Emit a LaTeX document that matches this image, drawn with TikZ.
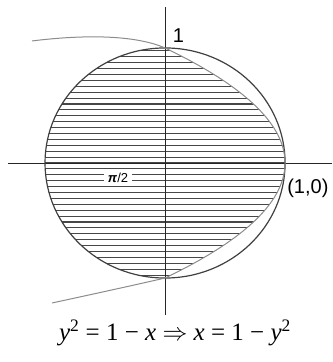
\documentclass[tikz,border=0pt]{standalone}
\usepackage{fontspec}
\newfontfamily\arialfont{Liberation Sans}
\newfontfamily\timesfont{Liberation Serif}
\usetikzlibrary{positioning}

\begin{document}
\begin{tikzpicture}[x=120pt, y=115pt,
    axis/.style={black!85, line width=0.9pt},
    rim/.style={black!75, line width=1.2pt},
    parab/.style={black!45, line width=1pt},
    hatch/.style={black!72, line width=1.05pt},
    lbl/.style={font=\arialfont\fontsize{20}{22}\selectfont, inner sep=0pt}
  ]
  \useasboundingbox (-1.375,-1.730) rectangle (1.392,1.417);

  % hatched region: inside the circle and left of x = 1 - y^2
  \begin{scope}
    \clip (0,0) circle (1);
    \clip (-0.942,-1.217) .. controls (-0.6,-1.14) and (-0.25,-1.06) .. (0,-1)
      -- plot[domain=-1:1, samples=41] ({1-\x*\x},\x)
      .. controls (-0.24,1.11) and (-0.65,1.12) .. (-1.108,1.061)
      -- (-1.5,1.061) -- (-1.5,-1.217) -- cycle;
    \foreach \k in {-20,...,20}
      \draw[hatch] (-1.2,\k*0.0513) -- (1.2,\k*0.0513);
  \end{scope}

  % axes
  \coordinate (xl) at (-1.308,0);
  \coordinate (xr) at (1.392,0);
  \coordinate (yb) at (0,-1.322);
  \coordinate (yt) at (0,1.357);
  \draw[axis] (xl) -- (xr);
  \draw[axis] (yb) -- (yt);

  % circle and parabola
  \draw[rim] (0,0) circle (1);
  \draw[parab] (-0.942,-1.217) .. controls (-0.6,-1.14) and (-0.25,-1.06) .. (0,-1)
    -- plot[domain=-1:1, samples=41] ({1-\x*\x},\x)
    .. controls (-0.24,1.11) and (-0.65,1.12) .. (-1.108,1.061);

  % labels
  \node[lbl] (one) at (0.1125,1.109) {1};
  \node[lbl, anchor=base west] (pt) at (1.017,-0.261) {(1,0)};
  \node[fill=white, inner xsep=3.5pt, inner ysep=4pt, font=\arialfont\fontsize{13}{15}\selectfont]
    (half) at (-0.392,-0.125) {\textit{\textbf{π}}/2};
  \node[anchor=base, font=\timesfont\fontsize{25}{28}\selectfont] (eq) at (0.083,-1.539)
    {\textit{y}\textsuperscript{2} = 1 − \textit{x} $\Rightarrow$ \textit{x} = 1 − \textit{y}\textsuperscript{2}};
\end{tikzpicture}
\end{document}
